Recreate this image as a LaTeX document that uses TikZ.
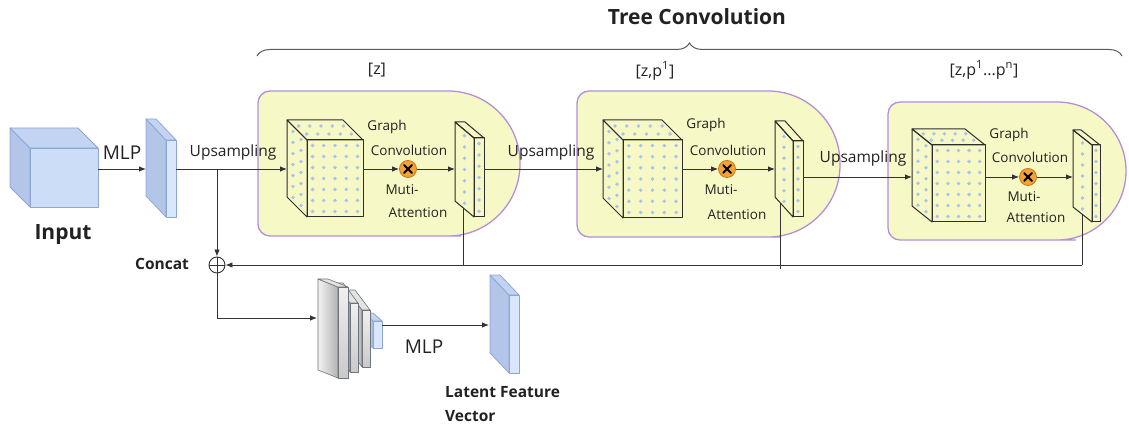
\documentclass[tikz,border=0pt]{standalone}
\usepackage{fontspec}
\setmainfont{Open Sans}
\usetikzlibrary{arrows.meta,decorations.pathreplacing,calc}
\definecolor{cubefront}{HTML}{CCDDF7}
\definecolor{cubeside}{HTML}{B3C6EA}
\definecolor{cubetop}{HTML}{C2D4F2}
\definecolor{cubeedge}{HTML}{8EA6D6}
\definecolor{platefront}{HTML}{D8E7FB}
\definecolor{blockfill}{HTML}{F6F9C6}
\definecolor{blockedge}{HTML}{B48EDC}
\definecolor{dotc}{HTML}{A9C3EC}
\definecolor{xfill}{HTML}{F2A236}
\definecolor{xedge}{HTML}{C27A1C}
\definecolor{linec}{HTML}{333333}
\definecolor{edgec}{HTML}{2E2E2E}
\definecolor{txtc}{HTML}{222222}
\definecolor{gedge}{HTML}{6E747C}
\definecolor{brc}{HTML}{5A5A5A}

\newcommand{\prism}[9]{%
  \path[#7] (#1,#2) -- ++(-#5,-#6) -- ++(0,#4) -- ++(#5,#6) -- cycle;
  \path[#8] (#1,#2) -- ++(-#5,-#6) -- ++(#3,0) -- ++(#5,#6) -- cycle;
  \path[#9] (#1,#2) rectangle ++(#3,#4);
}
\newcommand{\gridots}[8]{%
  \foreach \ii in {1,...,#7}{\foreach \jj in {1,...,#8}{%
    \fill[dotc] ({#1+(\ii-0.5)*#3/#7},{#2+(\jj-0.5)*#4/#8}) circle (1.9pt);}}%
  \foreach \tq in {0.3,0.7}{\foreach \jj in {1,...,#8}{%
    \fill[dotc] ({#1-\tq*#5},{#2-\tq*#6+(\jj-0.5)*#4/#8}) circle (1.9pt);}}%
  \foreach \tq in {0.3,0.7}{\foreach \ii in {1,...,#7}{%
    \fill[dotc] ({#1+(\ii-0.5)*#3/#7-\tq*#5},{#2-\tq*#6}) circle (1.9pt);}}%
}
\newcommand{\platedots}[7]{%
  \foreach \jj in {1,...,#7}{%
    \fill[dotc] ({#1+0.5*#3},{#2+(\jj-0.5)*#4/#7}) circle (1.9pt);
    \fill[dotc] ({#1-0.5*#5},{#2-0.5*#6+(\jj-0.5)*#4/#7}) circle (1.9pt);}%
}

\tikzset{
  conn/.style={draw=linec, line width=0.9pt},
  arr/.style={conn, -{Latex[length=7pt,width=5.5pt]}},
  blk/.style={fill=blockfill, draw=blockedge, line width=1.3pt},
  wire/.style={draw=edgec, line width=1pt, line join=round},
  bside/.style={draw=cubeedge, line width=0.8pt, fill=cubeside, line join=round},
  btop/.style={draw=cubeedge, line width=0.8pt, fill=cubetop, line join=round},
  bfront/.style={draw=cubeedge, line width=0.8pt, fill=cubefront, line join=round},
  pfront/.style={draw=cubeedge, line width=0.8pt, fill=platefront, line join=round},
  gside/.style={draw=gedge, line width=0.6pt, left color=gray!10, right color=gray!60, line join=round},
  gtop/.style={draw=gedge, line width=0.6pt, fill=gray!22, line join=round},
  gfront/.style={draw=gedge, line width=0.6pt, top color=gray!12, bottom color=gray!42, line join=round},
  lbl/.style={inner sep=0pt, text=txtc, font=\fontsize{13.5}{15}\selectfont},
  uplbl/.style={inner sep=0pt, text=txtc, font=\fontsize{15.5}{17}\selectfont},
  seqlbl/.style={inner sep=0pt, text=txtc, font=\fontsize{16}{18}\selectfont},
  boldlbl/.style={inner sep=0pt, text=txtc, font=\bfseries\fontsize{15.5}{19}\selectfont},
  xnode/.style={circle, fill=xfill, draw=xedge, line width=0.8pt, minimum size=17pt, inner sep=0pt},
  xmark/.style={draw=black, line width=2pt, line cap=round},
  cat/.style={circle, draw=linec, line width=0.9pt, minimum size=16pt, inner sep=0pt},
}

\begin{document}
\begin{tikzpicture}[x=1pt,y=-1pt]
\useasboundingbox (0,0) rectangle (1129,430);
\fill[white] (0,0) rectangle (1129,430);

% ---------- title and brace ----------
\node[inner sep=0pt, text=txtc, font=\bfseries\fontsize{21}{24}\selectfont] (title) at (697,17) {Tree Convolution};
\coordinate (bl) at (257,56);
\coordinate (br) at (1122,56);
\draw[draw=brc, line width=1pt, decorate, decoration={brace, amplitude=13pt}] (bl) -- (br);
\node[seqlbl] (s1) at (377,70) {[z]};
\node[seqlbl] (s2) at (655,71) {[z,p$^{\mathrm{1}}$]};
\node[seqlbl] (s3) at (984,70) {[z,p$^{\mathrm{1}}$...p$^{\mathrm{n}}$]};

% ---------- yellow blocks ----------
\path[blk] (389,91) [rounded corners=72pt] -- (520,91) -- (520,236) -- (389,236)
  [rounded corners=12pt] -- (258,236) -- (258,91) -- cycle;
\path[blk] (708,91) [rounded corners=72pt] -- (840,91) -- (840,237) -- (708,237)
  [rounded corners=12pt] -- (577,237) -- (577,91) -- cycle;
\path[blk] (1007,102) [rounded corners=69pt] -- (1126,102) -- (1126,240) -- (1007,240)
  [rounded corners=12pt] -- (888,240) -- (888,102) -- cycle;

% ---------- input and first MLP ----------
\prism{30}{148}{68}{59}{20}{20}{bside}{btop}{bfront}
\node[inner sep=0pt, text=txtc, font=\bfseries\fontsize{21}{24}\selectfont] (inlbl) at (63,235) {Input};
\node[inner sep=0pt, text=txtc, font=\fontsize{19}{21}\selectfont] (mlp1) at (122,153) {MLP};
\prism{166}{140}{10}{77}{20}{21}{bside}{btop}{pfront}

\coordinate (inR) at (98,169);
\coordinate (pAL) at (146,169);
\coordinate (pAR) at (176,169);
\coordinate (jn) at (217,169);
\draw[arr] (inR) -- (pAL);

% ---------- block 1 ----------
\prism{307}{140}{56}{77}{20}{20}{wire}{wire}{wire}
\gridots{307}{140}{56}{77}{20}{20}{5}{7}
\prism{474}{138}{10}{79}{19}{16}{wire}{wire}{wire}
\platedots{474}{138}{10}{79}{19}{16}{7}
\node[xnode] (x1) at (408,169) {};
\coordinate (c1L) at (287,169);
\coordinate (c1R) at (363,169);
\coordinate (p1L) at (455,169);
\coordinate (p1R) at (484,169);
\coordinate (p1B) at (463,208);
\node[lbl] (g1) at (387,127) {Graph};
\node[lbl] (cv1) at (409,150) {Convolution};
\node[lbl] (m1) at (402,190) {Muti-};
\node[lbl] (a1) at (418,213) {Attention};

% ---------- block 2 ----------
\prism{623}{140}{59}{78}{20}{20}{wire}{wire}{wire}
\gridots{623}{140}{59}{78}{20}{20}{5}{7}
\prism{793}{141}{10}{76}{18}{20}{wire}{wire}{wire}
\platedots{793}{141}{10}{76}{18}{20}{7}
\node[xnode] (x2) at (727,169) {};
\coordinate (c2L) at (603,169);
\coordinate (c2R) at (682,169);
\coordinate (p2L) at (775,169);
\coordinate (p2R) at (803,177);
\coordinate (p2B) at (780,203);
\node[lbl] (g2) at (706,125) {Graph};
\node[lbl] (cv2) at (728,150) {Convolution};
\node[lbl] (m2) at (721,190) {Muti-};
\node[lbl] (a2) at (737,215) {Attention};

% ---------- block 3 ----------
\prism{932}{145}{53}{77}{20}{16}{wire}{wire}{wire}
\gridots{932}{145}{53}{77}{20}{16}{5}{7}
\prism{1092}{145}{8}{77}{19}{15}{wire}{wire}{wire}
\platedots{1092}{145}{8}{77}{19}{15}{7}
\node[xnode] (x3) at (1028,177) {};
\coordinate (c3L) at (912,177);
\coordinate (c3R) at (985,177);
\coordinate (p3L) at (1073,177);
\coordinate (p3B) at (1082,214);
\node[lbl] (g3) at (1009,135) {Graph};
\node[lbl] (cv3) at (1030,157) {Convolution};
\node[lbl] (m3) at (1024,197) {Muti-};
\node[lbl] (a3) at (1036,218) {Attention};

\foreach \xn in {x1,x2,x3}{
  \draw[xmark] ($(\xn)+(-3.8,-3.8)$) -- ($(\xn)+(3.8,3.8)$);
  \draw[xmark] ($(\xn)+(-3.8,3.8)$) -- ($(\xn)+(3.8,-3.8)$);
}

% ---------- upsampling connectors ----------
\node[uplbl] (u1) at (233,152) {Upsampling};
\node[uplbl] (u2) at (551,152) {Upsampling};
\node[uplbl] (u3) at (863,158) {Upsampling};
\draw[arr] (pAR) -- (c1L);
\draw[arr] (c1R) -- (x1.west);
\draw[arr] (x1.east) -- (p1L);
\draw[arr] (p1R) -- (c2L);
\draw[arr] (c2R) -- (x2.west);
\draw[arr] (x2.east) -- (p2L);
\draw[arr] (p2R) -- (c3L);
\draw[arr] (c3R) -- (x3.west);
\draw[arr] (x3.east) -- (p3L);

% ---------- concat ----------
\node[cat] (cc) at (217,265) {};
\draw[conn] (cc.north) -- (cc.south);
\draw[conn] (cc.west) -- (cc.east);
\node[boldlbl, font=\bfseries\fontsize{15.5}{18}\selectfont] (catlbl) at (162,264) {Concat};
\draw[arr] (jn) -- (cc.north);
\draw[conn] (p1B) -- (p1B |- cc);
\draw[conn] (p2B) -- ($(p2B |- cc)+(0,4)$);
\draw[conn] (p3B) -- (p3B |- cc);
\draw[arr] (p3B |- cc) -- (cc.east);

% ---------- bottom stack and latent vector ----------
\prism{373}{321}{9}{27}{9}{8}{bside}{btop}{pfront}
\prism{362}{310}{8}{57}{15}{20}{gside}{gtop}{gfront}
\prism{350}{303}{8}{69}{15}{20}{gside}{gtop}{gfront}
\prism{338}{287}{10}{91}{20}{8}{gside}{gtop}{gfront}
\coordinate (stL) at (317,318);
\coordinate (stR) at (382,325);
\coordinate (lvL) at (489,325);
\draw[arr] (cc.south) |- (stL);
\draw[arr] (stR) -- (lvL);
\node[inner sep=0pt, text=txtc, font=\fontsize{19}{21}\selectfont] (mlp2) at (424,347) {MLP};
\prism{509}{295}{10}{78}{19}{20}{bside}{btop}{pfront}
\node[boldlbl, align=left, anchor=north west, font=\bfseries\fontsize{15.5}{24}\selectfont] (lat) at (445,386) {Latent Feature\\Vector};

\end{tikzpicture}
\end{document}
